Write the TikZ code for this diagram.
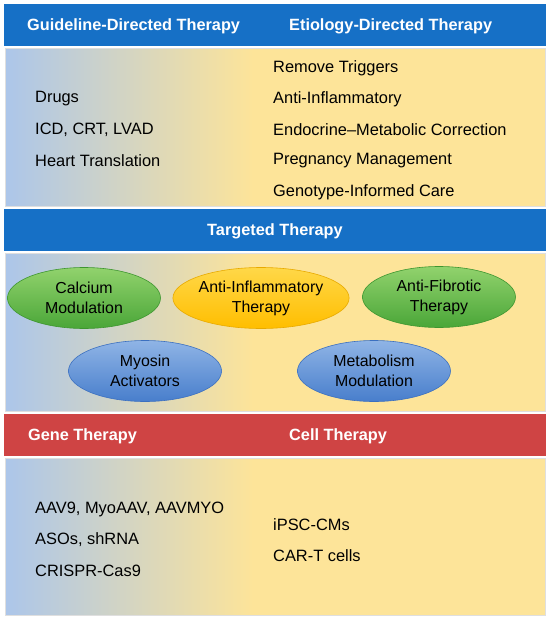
\documentclass[tikz,border=0pt]{standalone}
\usepackage{fontspec}
\setmainfont{Liberation Sans}
\usepackage{tikz}
\usetikzlibrary{shapes.geometric, positioning, calc}

\definecolor{hdrblue}{RGB}{22,112,198}
\definecolor{hdrred}{RGB}{207,68,68}
\definecolor{bodyblue}{RGB}{172,198,234}
\definecolor{bodyyellow}{RGB}{253,228,153}
\definecolor{pillgreenA}{RGB}{158,218,118}
\definecolor{pillgreenB}{RGB}{74,166,56}
\definecolor{pillgreenE}{RGB}{62,150,48}
\definecolor{pillgoldA}{RGB}{255,222,90}
\definecolor{pillgoldB}{RGB}{255,190,0}
\definecolor{pillgoldE}{RGB}{232,170,0}
\definecolor{pillblueA}{RGB}{156,190,234}
\definecolor{pillblueB}{RGB}{72,126,204}
\definecolor{pillblueE}{RGB}{60,112,192}

\pgfdeclarehorizontalshading{bandfade}{100bp}{color(0bp)=(bodyblue); color(25bp)=(bodyblue); color(48bp)=(bodyyellow); color(100bp)=(bodyyellow)}

\tikzset{
  hdrtext/.style={text=white, font=\fontsize{16.3}{19}\selectfont\bfseries, inner sep=0pt},
  itemtext/.style={anchor=west, font=\fontsize{16.4}{20}\selectfont, inner sep=0pt},
  pill/.style={ellipse, minimum width=153pt, minimum height=61pt, inner sep=0pt,
    align=center, font=\fontsize{15.9}{20}\selectfont, line width=0.6pt},
  greenpill/.style={pill, draw=pillgreenE, top color=pillgreenA!85!pillgreenB,
    middle color=pillgreenA, bottom color=pillgreenB},
  goldpill/.style={pill, draw=pillgoldE, top color=pillgoldA!80!pillgoldB,
    middle color=pillgoldA, bottom color=pillgoldB},
  bluepill/.style={pill, draw=pillblueE, top color=pillblueA!85!pillblueB,
    middle color=pillblueA, bottom color=pillblueB},
  bodyband/.style={shading=bandfade, draw=gray!25, line width=0.8pt}
}

\begin{document}
\begin{tikzpicture}[x=1pt, y=-1pt]

  % --- Canvas ---
  \fill[white] (0,0) rectangle (550,622);
  \useasboundingbox (0,0) rectangle (550,622);

  % --- Band 1: guideline / etiology ---
  \fill[hdrblue] (4,4) rectangle (546,46);
  \path[bodyband] (5,48) rectangle (545,206);
  \node[hdrtext, anchor=west] (gdthead) at (27,26) {Guideline-Directed Therapy};
  \node[hdrtext, anchor=west] (edthead) at (289,26) {Etiology-Directed Therapy};

  \foreach \txt [count=\i] in {Drugs, {ICD, CRT, LVAD}, Heart Translation}{
    \node[itemtext] (gdt\i) at (35,68+31*\i) {\txt};
  }
  \foreach \txt [count=\i] in {Remove Triggers, Anti-Inflammatory,
      Endocrine--Metabolic Correction, Pregnancy Management,
      Genotype-Informed Care}{
    \node[itemtext] (edt\i) at (273,37+31*\i) {\txt};
  }

  % --- Band 2: targeted therapy ---
  \fill[hdrblue] (4,209) rectangle (546,251);
  \path[bodyband] (5,253) rectangle (545,411);
  \node[hdrtext] (tthead) at (275,231) {Targeted Therapy};

  \node[greenpill] (calcium) at (84,298) {Calcium\\Modulation};
  \node[goldpill]  (antiinfl) at (261,298) {Anti-Inflammatory\\Therapy};
  \node[greenpill] (antifib) at (439,297) {Anti-Fibrotic\\Therapy};
  \node[bluepill]  (myosin) at (145,371) {Myosin\\Activators};
  \node[bluepill]  (metab) at (374,371) {Metabolism\\Modulation};

  % --- Band 3: gene / cell ---
  \fill[hdrred] (4,414) rectangle (546,456);
  \path[bodyband] (5,458) rectangle (545,615);
  \node[hdrtext, anchor=west] (genehead) at (28,436) {Gene Therapy};
  \node[hdrtext, anchor=west] (cellhead) at (289,436) {Cell Therapy};

  \foreach \txt [count=\i] in {{AAV9, MyoAAV, AAVMYO}, {ASOs, shRNA}, CRISPR-Cas9}{
    \node[itemtext] (gene\i) at (35,478+31*\i) {\txt};
  }
  \foreach \txt [count=\i] in {iPSC-CMs, CAR-T cells}{
    \node[itemtext] (cell\i) at (273,494+31*\i) {\txt};
  }

\end{tikzpicture}
\end{document}
